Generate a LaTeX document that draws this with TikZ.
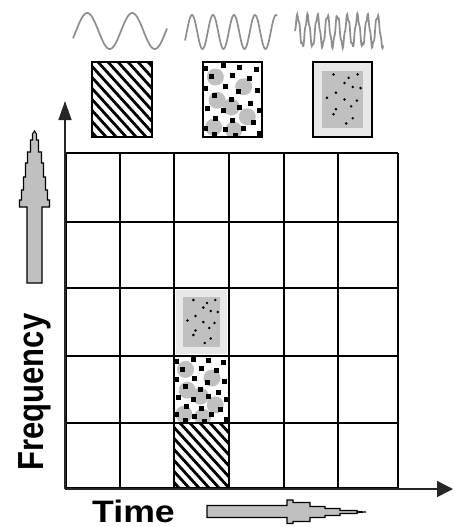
\documentclass[tikz,border=0pt]{standalone}
\usepackage{fontspec}
\setmainfont{Liberation Sans}
\usetikzlibrary{arrows.meta}
\definecolor{patgrey}{HTML}{C0C0C0}
\definecolor{lightgrey}{HTML}{E8E8E8}
\definecolor{wavegrey}{HTML}{8E8E8E}
\newcommand\mystripes[4]{%
  \begin{scope}
    \clip (#1,#2) rectangle (#3,#4);
    \fill[white] (#1,#2) rectangle (#3,#4);
    \foreach \i in {-104,-94,...,84} \draw[line width=2.8pt] ({#1+\i},#2) -- ++(100,110);
  \end{scope}}
\newcommand\myblobs[4]{%
  \begin{scope}
    \clip (#1,#2) rectangle (#3,#4);
    \fill[white] (#1,#2) rectangle (#3,#4);
    \foreach \pu/\pv in {0.21/0.2,0.69/0.33,0.24/0.51,0.75/0.73,0.18/0.87,0.52/0.91,0.48/0.6}
      \fill[patgrey] ({#1+\pu*(#3-#1)},{#2+\pv*(#4-#2)}) circle[radius=8.5pt];
    \foreach \pu/\pv in {0.05/0.08,0.35/0.05,0.62/0.07,0.9/0.1,0.15/0.2,0.5/0.18,0.78/0.22,
      0.05/0.35,0.38/0.33,0.6/0.4,0.92/0.38,0.2/0.45,0.48/0.5,0.8/0.55,0.08/0.62,0.35/0.65,
      0.62/0.6,0.95/0.65,0.22/0.75,0.5/0.78,0.85/0.8,0.05/0.88,0.38/0.9,0.68/0.88,0.95/0.95,
      0.2/0.97,0.55/0.98}
      \fill ({#1+\pu*(#3-#1)-2.5},{#2+\pv*(#4-#2)-2.5}) rectangle ++(5,5);
  \end{scope}}
\newcommand\mydots[5]{%
  \fill[lightgrey] (#1,#2) rectangle (#3,#4);
  \fill[patgrey] ({#1+#5},{#2+#5}) rectangle ({#3-#5},{#4-#5});
  \foreach \pu/\pv in {0.28/0.06,0.65/0.12,0.87/0.06,0.55/0.21,0.75/0.28,0.94/0.30,0.34/0.38,
    0.12/0.47,0.55/0.50,0.85/0.52,0.71/0.62,0.34/0.67,0.28/0.76,0.75/0.83,0.59/0.92}
    \fill ({#1+#5+\pu*(#3-#1-2*#5)},{#2+#5+\pv*(#4-#2-2*#5)}) circle[radius=1.4pt];}
\begin{document}
\begin{tikzpicture}[x=1pt,y=-1pt,
  gridline/.style={black, line width=1.3pt},
  axisline/.style={black!85, line width=1.5pt},
  iconframe/.style={black, line width=1.5pt},
  bigarrow/.style={fill=patgrey, draw=black, line width=1.1pt, line join=miter},
  wave/.style={wavegrey, line width=1.7pt},
  label/.style={font=\bfseries\fontsize{31}{31}\selectfont, inner sep=0pt}]
\useasboundingbox (0,0) rectangle (454,527);
\fill[white] (0,0) rectangle (454,527);

% waves
\draw[wave] plot[domain=73:167, samples=120, smooth] (\x,{31-18*sin((\x-76)*8)});
\draw[wave] plot[domain=185:277, samples=150, smooth] (\x,{32-17*sin((\x-186.75)*17.142857)});
\draw[wave] plot[domain=295:383, samples=200, smooth] (\x,{31-15*sin((\x-295)*36)+2.5*sin((\x-295)*137)});

% icons
\mystripes{92}{62}{152}{137}
\draw[iconframe] (92,62) rectangle (152,137);
\myblobs{203}{62}{262}{137}
\draw[iconframe] (203,62) rectangle (262,137);
\mydots{313}{62}{372}{137}{9}
\draw[iconframe] (313,62) rectangle (372,137);

% filled cells
\mydots{176}{290}{227}{354}{7}
\myblobs{174}{356}{229}{423}
\mystripes{174}{423}{229}{488}

% grid
\foreach \yy in {153,222,288,356,423,488} \draw[gridline] (66,\yy) -- (398,\yy);
\foreach \xx in {66,120,174,229,284,338,398} \draw[gridline] (\xx,153) -- (\xx,488);

% axes
\coordinate (O) at (65,489);
\coordinate (ytip) at (65,101);
\coordinate (xtip) at (453,489);
\draw[axisline, -{Triangle[length=19pt,width=13pt]}] (O) -- (ytip);
\draw[axisline, -{Triangle[length=16pt,width=16pt]}] (O) -- (xtip);

% big arrows (stepped heads)
\draw[bigarrow] (27,283) -- (27,207)
  -- (19.5,207) -- (19.5,200) -- (21.5,200) -- (21.5,190) -- (23.5,190) -- (23.5,177)
  -- (25.5,177) -- (25.5,163) -- (27.5,163) -- (27.5,152) -- (30.5,152) -- (30.5,140)
  -- (32.5,140) -- (32.5,134) -- (34.5,131)
  -- (36.5,134) -- (36.5,140) -- (38.5,140) -- (38.5,152) -- (41.5,152) -- (41.5,163)
  -- (43.5,163) -- (43.5,177) -- (45.5,177) -- (45.5,190) -- (47.5,190) -- (47.5,200)
  -- (49.5,200) -- (49.5,207) -- (42,207) -- (42,283) -- cycle;
\draw[bigarrow] (207,505.5) -- (287,505.5) -- (287,500) -- (293,500) -- (293,502.5) -- (310,502.5)
  -- (310,506.5) -- (325,506.5) -- (325,508.5) -- (340,508.5) -- (340,510.5) -- (357,510.5)
  -- (357,511.5) -- (366,512) -- (357,512.5) -- (357,513.5) -- (340,513.5) -- (340,515.5)
  -- (325,515.5) -- (325,517.5) -- (310,517.5) -- (310,521.5) -- (293,521.5) -- (293,523.5)
  -- (287,523.5) -- (287,517.5) -- (207,517.5) -- cycle;

% labels
\node[label, rotate=90, anchor=base] (freq) at (43,392) {\scalebox{1}[1.17]{Frequency}};
\node[label, anchor=base] (time) at (133.5,522) {\scalebox{1.15}[1]{Time}};
\end{tikzpicture}
\end{document}
